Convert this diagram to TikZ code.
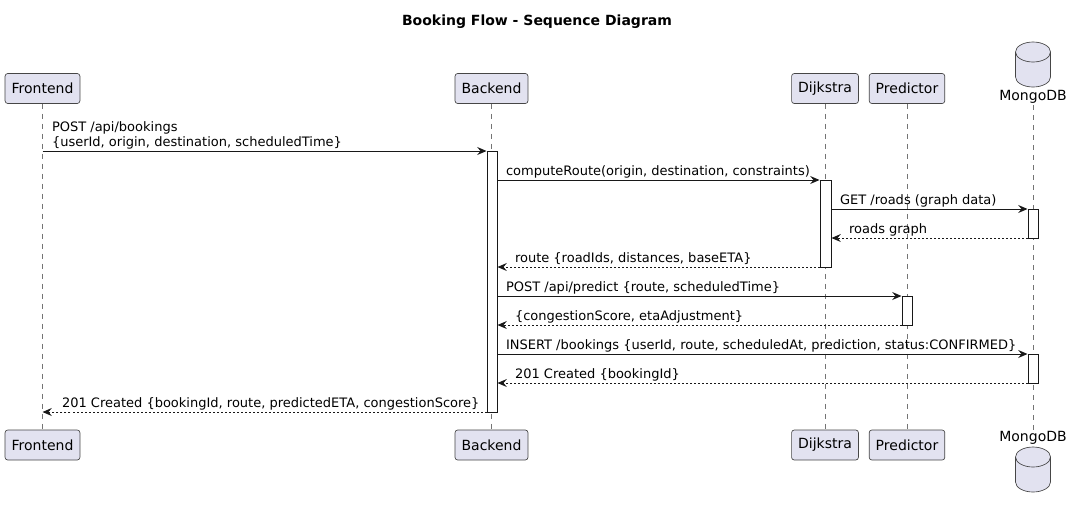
\documentclass[tikz,border=0pt]{standalone}
\usepackage{fontspec}
\setmainfont{DejaVu Sans}
\usepackage{tikz}
\usetikzlibrary{fit, arrows.meta, calc}

\definecolor{partfill}{HTML}{E2E2F0}
\definecolor{umlline}{HTML}{181818}

\tikzset{
	part/.style={draw=umlline!80, fill=partfill, rounded corners=2pt, line width=.5pt, minimum height=22.5pt, inner xsep=4.9pt, font=\fontsize{10.5}{12}\selectfont},
	life/.style={draw=umlline!60, line width=.5pt, dash pattern=on 3.75pt off 3.75pt},
	act/.style={draw=umlline, fill=white, line width=.75pt, inner sep=0pt},
	call/.style={draw=umlline, line width=.75pt, -{Stealth[length=7pt, width=6pt, inset=2.5pt]}},
	reply/.style={call, dash pattern=on 1.5pt off 1.5pt},
	msg/.style={anchor=base west, inner sep=0pt, font=\fontsize{9.75}{11.25}\selectfont, yshift=3.75pt},
	fwd/.style={msg, pos=0, xshift=6pt},
	bwd/.style={msg, pos=1, xshift=12.75pt},
	db/.style={draw=umlline!80, fill=partfill, line width=.5pt},
}

\begin{document}
\begin{tikzpicture}[x=0.75pt, y=-0.75pt]
		\useasboundingbox[fill=white] (0,0) rectangle (1069,508);
		
		\node[font=\fontsize{10.5}{12}\selectfont\bfseries] (title) at (537,22) {Booking Flow - Sequence Diagram};
		
		\begin{scope}[every node/.style={part}]
		\node (fe) at (42.5,88.5) {Frontend};
		\node (be) at (491.5,88.5) {Backend};
		\node (dj) at (825,88.5) {Dijkstra};
		\node (pr) at (907,88.5) {Predictor};
		\node (fe2) at (42.5,445) {Frontend};
		\node (be2) at (491.5,445) {Backend};
		\node (dj2) at (825,445) {Dijkstra};
		\node (pr2) at (907,445) {Predictor};
		\end{scope}
		
		\node[font=\fontsize{10.5}{12}\selectfont, inner sep=1pt] (db) at (1033,97) {MongoDB};
		\node[font=\fontsize{10.5}{12}\selectfont, inner sep=1pt] (db2) at (1033,438) {MongoDB};
		\path[db] (1015.5,52) -- (1015.5,77) arc[start angle=180, end angle=360, x radius=13.125pt, y radius=7.5pt]
			-- (1050.5,52) arc[start angle=0, end angle=180, x radius=13.125pt, y radius=7.5pt] -- cycle;
		\draw[db, fill=none] (1015.5,52) arc[start angle=180, end angle=360, x radius=13.125pt, y radius=7.5pt];
		\path[db] (1015.5,457) -- (1015.5,482) arc[start angle=180, end angle=360, x radius=13.125pt, y radius=7.5pt]
			-- (1050.5,457) arc[start angle=0, end angle=180, x radius=13.125pt, y radius=7.5pt] -- cycle;
		\draw[db, fill=none] (1015.5,457) arc[start angle=180, end angle=360, x radius=13.125pt, y radius=7.5pt];
		
		\draw[life] (fe) -- (fe2);
		\draw[life] (be) -- (be2);
		\draw[life] (dj) -- (dj2);
		\draw[life] (pr) -- (pr2);
		\draw[life] (db) -- (db2);
		
		\node[act, fit={(487,151)(497,412)}] (bea) {};
		\node[act, fit={(820,180)(831,267)}] (dja) {};
		\node[act, fit={(1028,209)(1038,238)}] (dba) {};
		\node[act, fit={(902,296)(912,325)}] (pra) {};
		\node[act, fit={(1028,354)(1038,383)}] (dbb) {};
		
		\draw[call] (fe.south |- 0,151) -- (bea.west |- 0,151)
			node[fwd, xshift=0.75pt] {\{userId, origin, destination, scheduledTime\}}
			node[fwd, xshift=0.75pt, yshift=11.25pt] {POST /api/bookings};
		\draw[call] (bea.east |- 0,180) -- (dja.west |- 0,180) node[fwd] {computeRoute(origin, destination, constraints)};
		\draw[call] (dja.east |- 0,209) -- (dba.west |- 0,209) node[fwd] {GET /roads (graph data)};
		\draw[reply] (dba.west |- 0,238) -- (dja.east |- 0,238) node[bwd] {roads graph};
		\draw[reply] (dja.west |- 0,267) -- (bea.east |- 0,267) node[bwd] {route \{roadIds, distances, baseETA\}};
		\draw[call] (bea.east |- 0,296) -- (pra.west |- 0,296) node[fwd] {POST /api/predict \{route, scheduledTime\}};
		\draw[reply] (pra.west |- 0,325) -- (bea.east |- 0,325) node[bwd] {\{congestionScore, etaAdjustment\}};
		\draw[call] (bea.east |- 0,354) -- (dbb.west |- 0,354) node[fwd] {INSERT /bookings \{userId, route, scheduledAt, prediction, status:CONFIRMED\}};
		\draw[reply] (dbb.west |- 0,383) -- (bea.east |- 0,383) node[bwd] {201 Created \{bookingId\}};
		\draw[reply] (bea.west |- 0,412) -- (fe.south |- 0,412) node[bwd, xshift=1.5pt] {201 Created \{bookingId, route, predictedETA, congestionScore\}};
		
		\end{tikzpicture}
\end{document}
